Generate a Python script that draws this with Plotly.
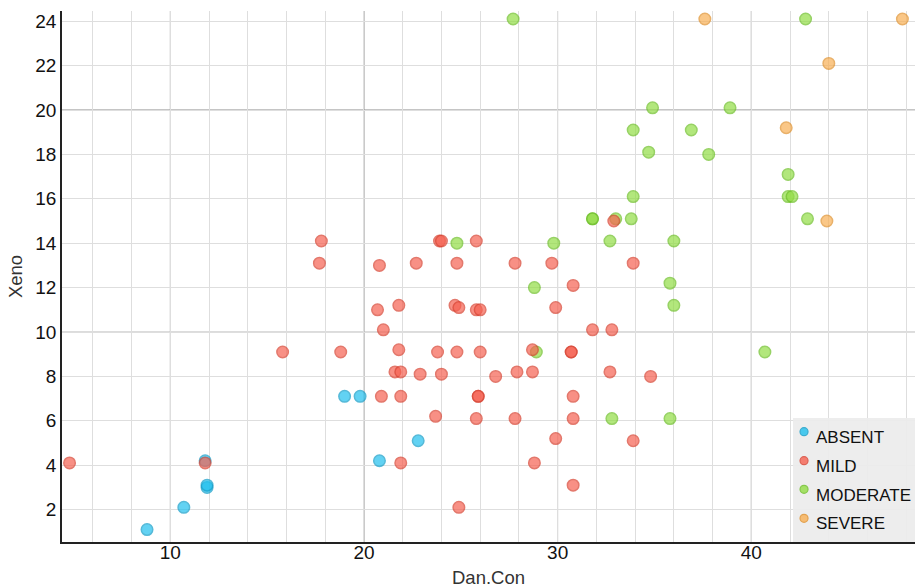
import plotly.graph_objects as go

# ---- data ----
absent_x = [8.8, 10.7, 11.9, 11.9, 11.8, 19.0, 19.8, 22.8, 20.8]
absent_y = [1.1, 2.1, 3.0, 3.1, 4.2, 7.1, 7.1, 5.1, 4.2]

mild_x = [4.8, 11.8, 15.8, 17.8, 17.7, 18.8,
          20.8, 20.7, 21.0, 21.8, 21.8, 21.6, 21.9, 20.9, 21.9, 21.9,
          22.7, 22.9,
          23.9, 24.0, 23.8, 24.0, 23.7,
          24.8, 24.7, 24.9, 24.8, 24.9,
          25.8, 25.8, 26.0, 26.0, 25.9, 25.9, 25.8,
          26.8,
          27.8, 27.9, 27.8,
          28.7, 28.7, 28.8,
          29.7, 29.9, 29.9,
          30.8, 30.7, 30.7, 30.8, 30.8, 30.8,
          31.8, 32.8, 32.7, 32.9,
          33.9, 33.9, 34.8]
mild_y = [4.1, 4.1, 9.1, 14.1, 13.1, 9.1,
          13.0, 11.0, 10.1, 11.2, 9.2, 8.2, 8.2, 7.1, 7.1, 4.1,
          13.1, 8.1,
          14.1, 14.1, 9.1, 8.1, 6.2,
          13.1, 11.2, 11.1, 9.1, 2.1,
          14.1, 11.0, 11.0, 9.1, 7.1, 7.1, 6.1,
          8.0,
          13.1, 8.2, 6.1,
          9.2, 8.2, 4.1,
          13.1, 11.1, 5.2,
          12.1, 9.1, 9.1, 7.1, 6.1, 3.1,
          10.1, 10.1, 8.2, 15.0,
          13.1, 5.1, 8.0]

moderate_x = [27.7, 24.8, 29.8, 28.8, 28.9, 31.8, 31.8, 33.0, 32.7, 32.8,
              33.8, 33.9, 33.9, 34.7, 34.9, 35.8, 36.0, 36.0, 35.8, 36.9,
              37.8, 38.9, 40.7, 41.9, 41.9, 42.1, 42.9, 42.8]
moderate_y = [24.1, 14.0, 14.0, 12.0, 9.1, 15.1, 15.1, 15.1, 14.1, 6.1,
              15.1, 16.1, 19.1, 18.1, 20.1, 12.2, 11.2, 14.1, 6.1, 19.1,
              18.0, 20.1, 9.1, 17.1, 16.1, 16.1, 15.1, 24.1]

severe_x = [37.6, 47.8, 44.0, 41.8, 43.9]
severe_y = [24.1, 24.1, 22.1, 19.2, 15.0]

categories = ["ABSENT", "MILD", "MODERATE", "SEVERE"]
x_ticks = [10, 20, 30, 40]
y_ticks = [2, 4, 6, 8, 10, 12, 14, 16, 18, 20, 22, 24]

FONT = "'Liberation Sans', Arial, Helvetica, sans-serif"

styles = {
    "ABSENT": ("#20c0ee", "#0f9cc8"),
    "MILD": ("#f66252", "#d8402f"),
    "MODERATE": ("#92dd45", "#6cbf25"),
    "SEVERE": ("#f9b055", "#e0902a"),
}
values = {
    "ABSENT": (absent_x, absent_y),
    "MILD": (mild_x, mild_y),
    "MODERATE": (moderate_x, moderate_y),
    "SEVERE": (severe_x, severe_y),
}
draw_order = ["MODERATE", "SEVERE", "ABSENT", "MILD"]

fig = go.Figure()
for name in draw_order:
    xs, ys = values[name]
    fill, border = styles[name]
    fig.add_trace(go.Scatter(
        x=xs, y=ys, mode="markers", name=name, showlegend=False,
        marker=dict(size=11.5, color=fill, opacity=0.7,
                    line=dict(color=border, width=1.5)),
    ))

# emphasised grid lines (10s medium, 20s dark)
for xv, col in [(10, "#b8b8b8"), (30, "#b8b8b8"), (20, "#8a8a8a"), (40, "#8a8a8a")]:
    fig.add_shape(type="line", xref="x", yref="paper", x0=xv, x1=xv, y0=0, y1=1,
                  line=dict(color=col, width=1), layer="below")
for yv, col in [(10, "#b8b8b8"), (20, "#8a8a8a")]:
    fig.add_shape(type="line", xref="paper", yref="y", x0=0, x1=1, y0=yv, y1=yv,
                  line=dict(color=col, width=1), layer="below")

# legend box (bottom-right, inside plot area)
fig.add_shape(type="rect", xref="paper", yref="paper", x0=0.857, x1=1.0, y0=0, y1=0.2335,
              fillcolor="rgba(236,236,236,0.92)", line=dict(width=0), layer="above")
marker_y = [0.2077, 0.1531, 0.0992, 0.0446]
text_y = [0.1977, 0.1418, 0.0885, 0.0352]
for cat, my, ty in zip(categories, marker_y, text_y):
    fill, border = styles[cat]
    fig.add_shape(type="circle", xref="paper", yref="paper",
                  xsizemode="pixel", ysizemode="pixel",
                  xanchor=0.8699, yanchor=my, x0=-4, x1=4, y0=-4, y1=4,
                  fillcolor=fill, opacity=0.8, line=dict(color=border, width=1.2),
                  layer="above")
    fig.add_annotation(xref="paper", yref="paper", x=0.8816, y=ty,
                       xanchor="left", yanchor="middle", showarrow=False,
                       text=cat, font=dict(size=17, color="#111111", family=FONT))

fig.update_layout(
    width=915, height=588,
    margin=dict(l=62, r=0, t=11, b=46, autoexpand=False),
    paper_bgcolor="white", plot_bgcolor="white",
    font=dict(family=FONT, size=16, color="#111111"),
    showlegend=False,
)
fig.update_xaxes(
    range=[4.41, 48.45], tickvals=x_ticks, ticktext=[str(v) for v in x_ticks],
    showgrid=True, gridcolor="#dedede", gridwidth=1,
    minor=dict(dtick=2, tick0=0, showgrid=True, gridcolor="#dedede", gridwidth=1),
    showline=True, linecolor="#222222", linewidth=1.5,
    ticks="", zeroline=False, automargin=False, ticklabelstandoff=-8,
    tickfont=dict(size=19, color="#111111"),
    title=dict(text="Dan.Con", font=dict(size=18.5, color="#333333"), standoff=10),
)
fig.update_yaxes(
    range=[0.54, 24.46], tickvals=y_ticks, ticktext=[str(v) for v in y_ticks],
    showgrid=True, gridcolor="#dedede", gridwidth=1,
    showline=True, linecolor="#222222", linewidth=1.5,
    ticks="", zeroline=False, automargin=False,
    tickfont=dict(size=19, color="#111111"),
    title=dict(text="Xeno", font=dict(size=18.5, color="#333333"), standoff=8),
)

# remove the browser's default page margin so the 915x588 figure fills the window exactly
fig.write_html(
    "out.html",
    config={"displayModeBar": False},
    post_script="document.body.style.margin='0';"
                "document.documentElement.style.overflow='hidden';",
)
